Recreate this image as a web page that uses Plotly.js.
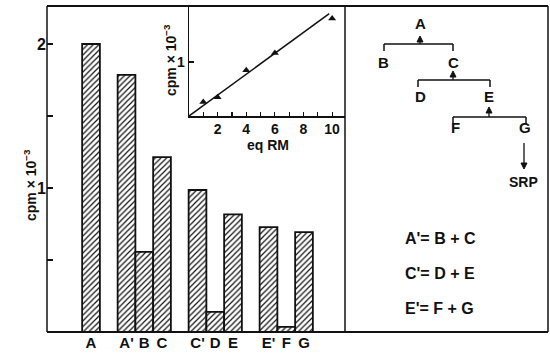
<!DOCTYPE html>
<html>
<head>
<meta charset="utf-8">
<script src="https://cdn.plot.ly/plotly-3.0.1.min.js"></script>
<style>html,body{margin:0;padding:0;background:#fff;}#chart{width:550px;height:353px;}</style>
</head>
<body>
<div id="chart"></div>
<script>
// Main bar chart data
var categories = ["A", "A'", "B", "C", "C'", "D", "E", "E'", "F", "G"];
var groupOf    = [0, 1, 1, 1, 2, 2, 2, 3, 3, 3];
var cpmValues  = [2.0, 1.785, 0.556, 1.215, 0.986, 0.14, 0.817, 0.729, 0.035, 0.694];
var mainYTickVals = [1, 2];
var mainYTickText = ["1", "2"];

// Inset data
var rmEq  = [1, 2, 4, 6, 10];
var rmCpm = [0.26, 0.35, 0.85, 1.17, 1.81];
var fitX  = [0, 9.8];
var fitY  = [0, 1.9];
var insetXTickVals = [2, 4, 6, 8, 10];
var insetXTickText = ["2", "4", "6", "8", "10"];

// Right panel text
var equations = ["A'= B + C", "C'= D + E", "E'= F + G"];

var W = 550, H = 353;
function px(x) { return x / W; }
function py(y) { return (H - y) / H; }

var xPos = categories.map(function (c, i) { return i + groupOf[i]; });

var FONT = "Liberation Sans, Arial, sans-serif";
var black = "#111";

var traces = [
  {
    type: "bar", x: xPos, y: cpmValues, width: 1,
    marker: {
      color: "white",
      line: { color: black, width: 1.8 },
      pattern: { shape: "/", fgcolor: black, bgcolor: "white", size: 4, solidity: 0.3 }
    },
    xaxis: "x", yaxis: "y", hoverinfo: "x+y"
  },
  {
    type: "scatter", mode: "lines", x: fitX, y: fitY,
    line: { color: black, width: 1.5 }, xaxis: "x2", yaxis: "y2"
  },
  {
    type: "scatter", mode: "markers", x: rmEq, y: rmCpm,
    marker: { symbol: "triangle-up", size: 7, color: black }, xaxis: "x2", yaxis: "y2"
  }
];

function line(x0, y0, x1, y1, w) {
  return { type: "line", xref: "paper", yref: "paper", x0: px(x0), y0: py(y0), x1: px(x1), y1: py(y1),
           line: { color: black, width: w || 1.5 } };
}
function head(x, yTip, dir) {
  // dir = -1 for up-pointing, +1 for down-pointing
  var b = yTip - dir * 6;
  var p = "M " + px(x - 3) + "," + py(b) + " L " + px(x) + "," + py(yTip) + " L " + px(x + 3) + "," + py(b) + " Z";
  return { type: "path", xref: "paper", yref: "paper", path: p, fillcolor: black, line: { color: black, width: 1 } };
}

var shapes = [
  // outer frame
  line(47, 6, 548, 6, 2), line(47, 332, 548, 332, 2),
  line(47, 6, 47, 332, 1.5), line(548, 6, 548, 332, 1.5),
  // divider
  line(345, 6, 345, 332, 1.5),
  // brackets
  line(384, 44, 453, 44), line(384, 44, 384, 51), line(453, 44, 453, 51),
  line(418, 80, 490, 80), line(418, 80, 418, 87), line(490, 80, 490, 87),
  line(453, 117, 526, 117), line(453, 117, 453, 124), line(526, 117, 526, 124),
  // arrows
  line(420, 44, 420, 38, 1.3), head(420, 36, -1),
  line(453, 80, 453, 73, 1.3), head(453, 71, -1),
  line(489, 117, 489, 109, 1.3), head(489, 107, -1),
  line(524, 143, 524, 166, 1.3), head(524, 169, 1)
];

function txt(s, x, y, size, anchor) {
  return { text: s, xref: "paper", yref: "paper", x: px(x), y: py(y), showarrow: false,
           xanchor: anchor || "center", yanchor: "middle",
           font: { family: FONT, size: size || 14, color: black, weight: 700 } };
}

var annotations = [
  txt("A", 420, 23, 15), txt("B", 383, 62, 15), txt("C", 453, 62, 15),
  txt("D", 420, 97, 15), txt("E", 489, 97, 15), txt("F", 455, 128, 15), txt("G", 525, 128, 15),
  txt("SRP", 523, 182, 14),
  // axis titles
  { text: "cpm × 10<sup>−3</sup>", xref: "paper", yref: "paper", x: px(30), y: py(185), showarrow: false,
    textangle: -90, xanchor: "center", yanchor: "middle",
    font: { family: FONT, size: 14, color: black, weight: 700 } },
  { text: "cpm × 10<sup>−3</sup>", xref: "paper", yref: "paper", x: px(170), y: py(60), showarrow: false,
    textangle: -90, xanchor: "center", yanchor: "middle",
    font: { family: FONT, size: 14, color: black, weight: 700 } },
  txt("eq RM", 268, 145, 14)
];
equations.forEach(function (e, i) { annotations.push(txt(e, 403, 238 + 35 * i, 16, "left")); });

var layout = {
  width: W, height: H,
  margin: { l: 0, r: 0, t: 0, b: 0 },
  paper_bgcolor: "white", plot_bgcolor: "rgba(0,0,0,0)",
  showlegend: false,
  xaxis: {
    domain: [px(47), px(345)], range: [-2.48, 14.31], anchor: "y",
    tickvals: xPos, ticktext: categories, ticks: "", showgrid: false, zeroline: false, showline: false,
    tickfont: { family: FONT, size: 15, color: black, weight: 700 }, fixedrange: true
  },
  yaxis: {
    domain: [py(332), py(6)], range: [0, 2.264], anchor: "x",
    tickvals: mainYTickVals, ticktext: mainYTickText, ticks: "inside", ticklen: 6, tickwidth: 1.5, tickcolor: black,
    minor: { tick0: 0, dtick: 0.5, ticks: "inside", ticklen: 6, tickwidth: 1.5, tickcolor: black, showgrid: false },
    showgrid: false, zeroline: false, showline: false,
    tickfont: { family: FONT, size: 16, color: black, weight: 700 }, fixedrange: true
  },
  xaxis2: {
    domain: [px(189), px(345)], range: [0, 10.9], anchor: "y2",
    tickvals: insetXTickVals, ticktext: insetXTickText, ticks: "inside", ticklen: 4, tickwidth: 1.2, tickcolor: black,
    minor: { tick0: 0, dtick: 1, ticks: "inside", ticklen: 4, tickwidth: 1.2, tickcolor: black, showgrid: false },
    showgrid: false, zeroline: false, showline: true, linecolor: black, linewidth: 1.5,
    tickfont: { family: FONT, size: 14, color: black, weight: 700 }, fixedrange: true
  },
  yaxis2: {
    domain: [py(116), py(6)], range: [0, 2.04], anchor: "x2",
    tickvals: [1], ticktext: ["1"], ticks: "inside", ticklen: 5, tickwidth: 1.2, tickcolor: black,
    showgrid: false, zeroline: false, showline: true, linecolor: black, linewidth: 1.5,
    tickfont: { family: FONT, size: 14, color: black, weight: 700 }, fixedrange: true
  },
  shapes: shapes,
  annotations: annotations
};

Plotly.newPlot("chart", traces, layout, { displayModeBar: false, staticPlot: true });
</script>
</body>
</html>
